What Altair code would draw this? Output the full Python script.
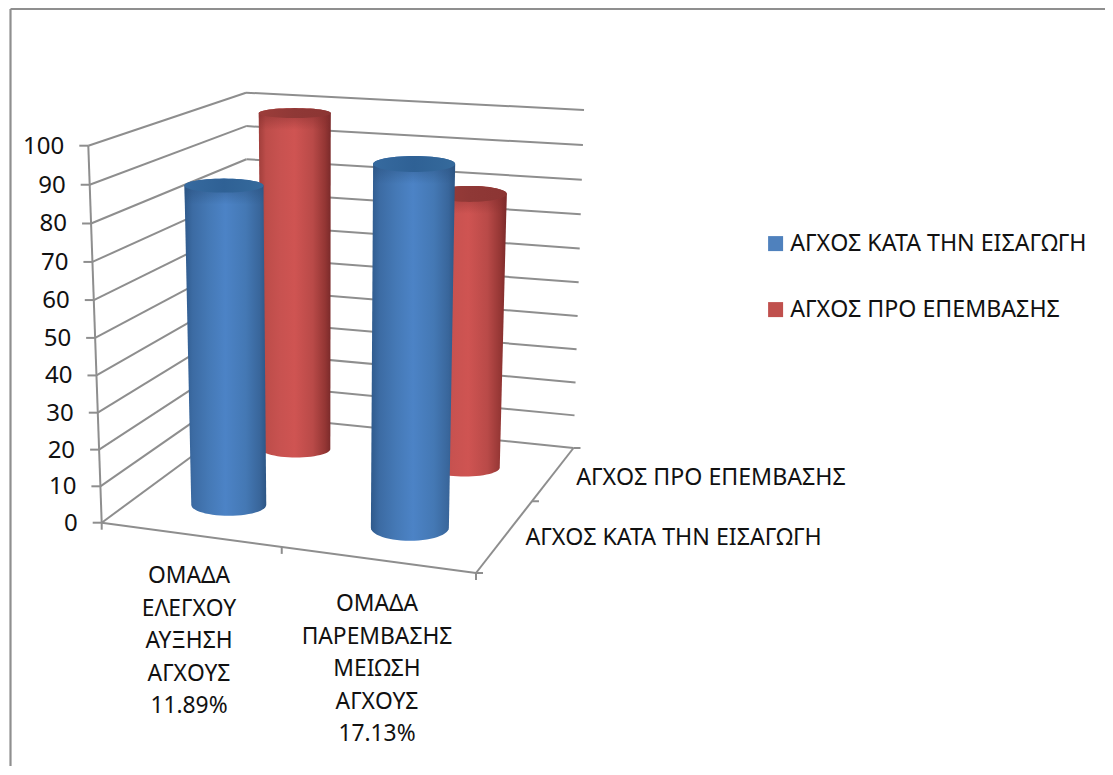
import altair as alt
import numpy as np
import pandas as pd

# ---------- chart values ----------
series = ["ΑΓΧΟΣ ΚΑΤΑ ΤΗΝ ΕΙΣΑΓΩΓΗ", "ΑΓΧΟΣ ΠΡΟ ΕΠΕΜΒΑΣΗΣ"]
entry_values = [88.0, 97.7]
preop_values = [99.5, 80.0]
value_ticks = [0, 10, 20, 30, 40, 50, 60, 70, 80, 90, 100]
group_lines = [
    ["ΟΜΑΔΑ", "ΕΛΕΓΧΟΥ", "ΑΥΞΗΣΗ", "ΑΓΧΟΥΣ", "11.89%"],
    ["ΟΜΑΔΑ", "ΠΑΡΕΜΒΑΣΗΣ", "ΜΕΙΩΣΗ", "ΑΓΧΟΥΣ", "17.13%"],
]

# ---------- layout ----------
W, H = 1097, 758
FONT = "Noto Sans"
GRID = "#8e8e8e"
TEXT = "#111111"

FLOOR = {"fl": (101.7, 522.7), "fr": (476, 573), "br": (573.5, 448), "bl": (248, 415)}
ROOF = {"fl": (88.3, 145.7), "fr": (485, 180), "br": (584, 110), "bl": (246, 92.7)}
GROUP_TICKS = [0, 0.481, 1]
DEPTH_TICKS = [0, 0.574, 1]


def warp(v):
    t = v / 100.0
    return t / (1.04 - 0.04 * t)


def bil(c, d, q):
    x = (1-c)*(1-d)*q["fl"][0] + c*(1-d)*q["fr"][0] + (1-c)*d*q["bl"][0] + c*d*q["br"][0]
    y = (1-c)*(1-d)*q["fl"][1] + c*(1-d)*q["fr"][1] + (1-c)*d*q["bl"][1] + c*d*q["br"][1]
    return x, y


def P(c, d, v):
    f = warp(v)
    a, b = bil(c, d, FLOOR), bil(c, d, ROOF)
    return a[0] + (b[0]-a[0])*f, a[1] + (b[1]-a[1])*f


xs = alt.Scale(domain=[8, 8+W], range=[0, W], nice=False, zero=False)
ys = alt.Scale(domain=[8, 8+H], range=[0, H], nice=False, zero=False)
X = lambda f="x": alt.X(f"{f}:Q", scale=xs, axis=None, title=None)
Y = lambda f="y": alt.Y(f"{f}:Q", scale=ys, axis=None, title=None)

# ---------- lines ----------
segs = []


def seg(a, b):
    segs.append({"x": a[0], "y": a[1], "x2": b[0], "y2": b[1]})


for v in value_ticks:
    seg(P(0, 0, v), P(0, 1, v))
    seg(P(0, 1, v), P(1, 1, v))
    p = P(0, 0, v)
    seg(p, (p[0]-9, p[1]))
seg(P(0, 0, 0), P(0, 0, 100))
seg(P(0, 0, 0), P(1, 0, 0))
seg(P(1, 0, 0), P(1, 1, 0))
for c in GROUP_TICKS:
    p = P(c, 0, 0)
    seg(p, (p[0], p[1]+7))
for d in DEPTH_TICKS:
    p = P(1, d, 0)
    seg(p, (p[0]+7, p[1]))

frame = [
    {"x": 10.5, "y": 9, "x2": 1105, "y2": 9},
    {"x": 10.5, "y": 9, "x2": 10.5, "y2": 766},
]

lines = alt.Chart(pd.DataFrame(segs)).mark_rule(color=GRID, strokeWidth=2).encode(
    x=X(), y=Y(), x2="x2:Q", y2="y2:Q")
frame_l = alt.Chart(pd.DataFrame(frame)).mark_rule(color="#8f8f8f", strokeWidth=2.2).encode(
    x=X(), y=Y(), x2="x2:Q", y2="y2:Q")


# ---------- cylinders ----------
def hgrad(stops):
    return alt.Gradient(
        gradient="linear", x1=0, x2=1, y1=0, y2=0,
        stops=[alt.GradientStop(offset=o, color=c) for o, c in stops],
    )


def vshade(color, clear):
    return alt.Gradient(
        gradient="linear", x1=0, x2=0, y1=0, y2=1,
        stops=[alt.GradientStop(offset=0, color=color),
               alt.GradientStop(offset=1, color=clear)],
    )


BLUE = dict(
    body=hgrad([(0, "#2f5a8c"), (0.1, "#3c6ba3"), (0.3, "#4579b6"), (0.5, "#4c83c6"),
                (0.75, "#4478b4"), (0.92, "#39669b"), (1, "#2d5685")]),
    cap=hgrad([(0, "#366a9f"), (0.5, "#2f6195"), (1, "#356a9c")]),
    shade=("rgba(40,80,125,0.55)", "rgba(40,80,125,0)"),
)
RED = dict(
    body=hgrad([(0, "#a03e3b"), (0.1, "#bd4d4a"), (0.3, "#c85250"), (0.5, "#cf5452"),
                (0.75, "#b94a48"), (0.92, "#943634"), (1, "#7a2a2a")]),
    cap=hgrad([(0, "#9c3d3a"), (0.5, "#8f3836"), (1, "#8c3533")]),
    shade=("rgba(130,45,45,0.55)", "rgba(130,45,45,0)"),
)

# per-cylinder drawn radii (top a, top b, base a, base b)
radii = {
    (0, 0): (39.5, 7, 37.5, 11),
    (1, 0): (41, 8, 39, 13),
    (0, 1): (36, 5, 34.5, 8.5),
    (1, 1): (37, 8, 35, 9),
}


def cylinder(i, s, value, style):
    c = 0.25 + 0.5 * i
    d = 0.25 + 0.5 * s
    top = P(c, d, value)
    base = P(c, d, 0.7)
    ta, tb, ba, bb = radii[(i, s)]
    th = np.linspace(0, np.pi/2, 15)
    rows = []
    for t in th:  # upper half of the top ellipse
        rows.append((top[1]-tb*np.cos(t), top[0]-ta*np.sin(t), top[0]+ta*np.sin(t)))
    for t in th[::-1]:  # lower half of the base ellipse
        rows.append((base[1]+bb*np.cos(t), base[0]-ba*np.sin(t), base[0]+ba*np.sin(t)))
    body = pd.DataFrame(rows, columns=["y", "x", "x2"])
    cap_rows = []
    for t in np.linspace(0, np.pi, 29):
        cap_rows.append((top[1]-tb*np.cos(t), top[0]-ta*np.sin(t), top[0]+ta*np.sin(t)))
    cap = pd.DataFrame(cap_rows, columns=["y", "x", "x2"])
    # soft shoulder below the cap
    sh = pd.DataFrame(
        [(top[1], top[0]-ta, top[0]+ta), (top[1]+tb+12, top[0]-ta+0.1, top[0]+ta-0.1)],
        columns=["y", "x", "x2"])
    b = alt.Chart(body).mark_area(orient="horizontal", color=style["body"], interpolate="linear").encode(
        y=Y(), x=X(), x2="x2:Q")
    o = alt.Chart(sh).mark_area(orient="horizontal", color=vshade(*style["shade"]), interpolate="linear").encode(
        y=Y(), x=X(), x2="x2:Q")
    k = alt.Chart(cap).mark_area(orient="horizontal", color=style["cap"], interpolate="linear").encode(
        y=Y(), x=X(), x2="x2:Q")
    return [b, o, k]


cyl = []
for s, vals, st in ((1, preop_values, RED), (0, entry_values, BLUE)):
    for i in (0, 1):
        cyl += cylinder(i, s, vals[i], st)

# ---------- text ----------
tick_rows = []
for v in value_ticks:
    p = P(0, 0, v)
    tick_rows.append({"x": p[0]-24, "y": p[1]+1, "t": str(v)})
tick_text = alt.Chart(pd.DataFrame(tick_rows)).mark_text(
    align="right", baseline="middle", font=FONT, fontSize=24, color=TEXT).encode(
    x=X(), y=Y(), text="t:N")

cat_rows = []
cat_center = [189, 377]
cat_first = [576, 604]
for i, ls in enumerate(group_lines):
    for j, t in enumerate(ls):
        cat_rows.append({"x": cat_center[i], "y": cat_first[i] + 32.6*j, "t": t})
cat_text = alt.Chart(pd.DataFrame(cat_rows)).mark_text(
    align="center", baseline="middle", font=FONT, fontSize=22.8, color=TEXT).encode(
    x=X(), y=Y(), text="t:N")

depth_rows = [
    {"x": P(1, 0.25, 0)[0]+25, "y": 538, "t": series[0]},
    {"x": P(1, 0.75, 0)[0]+27, "y": 478, "t": series[1]},
]
depth_text = alt.Chart(pd.DataFrame(depth_rows)).mark_text(
    align="left", baseline="middle", font=FONT, fontSize=23.2, color=TEXT).encode(
    x=X(), y=Y(), text="t:N")

# legend from a zero-size layer
legend_df = pd.DataFrame({"series": series, "x": [300, 300], "y": [300, 300]})
legend_layer = alt.Chart(legend_df).mark_point(filled=True, shape="square", size=0, opacity=1).encode(
    x=X(), y=Y(),
    color=alt.Color("series:N", scale=alt.Scale(domain=series, range=["#4f81bd", "#c0504d"]),
                    legend=alt.Legend(
                        title=None, orient="none", legendX=756, legendY=224,
                        symbolType="square", symbolSize=225, symbolStrokeWidth=0,
                        labelFont=FONT, labelFontSize=23.2, labelColor=TEXT,
                        labelOffset=3, rowPadding=42, labelLimit=400)),
)

chart = alt.layer(
    frame_l, lines, *cyl, tick_text, cat_text, depth_text, legend_layer
).properties(width=W, height=H, padding=0, autosize=alt.AutoSizeParams(type="none"), background="white"
).configure_view(stroke=None)

chart.save("out.html", embed_options={"renderer": "svg", "actions": False})
